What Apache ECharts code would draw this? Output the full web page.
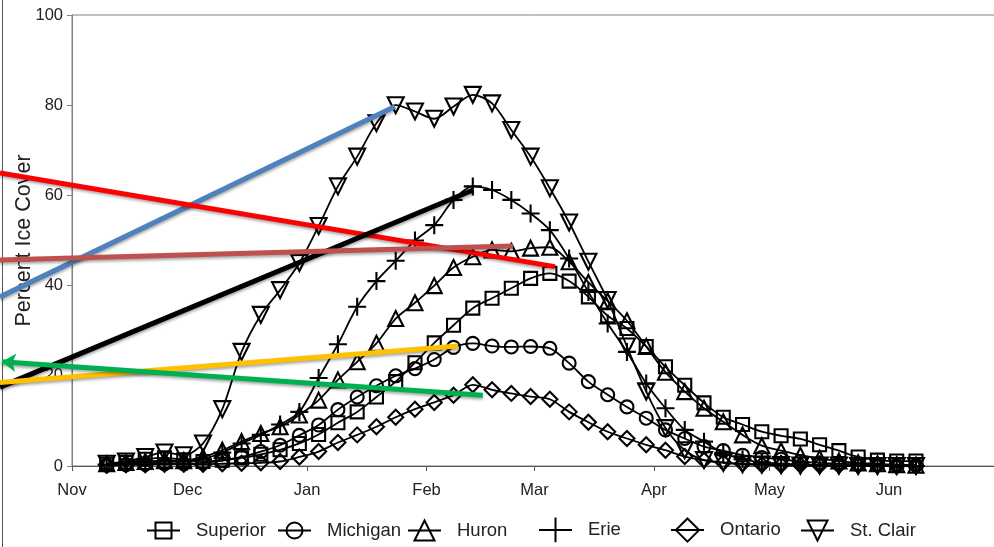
<!DOCTYPE html>
<html><head><meta charset="utf-8">
<script src="https://cdn.jsdelivr.net/npm/echarts@6/dist/echarts.min.js"></script>
<style>html,body{margin:0;padding:0;background:#fff}#c{width:994px;height:547px}</style>
</head><body><div id="c"></div><script>
// Days counted from Nov 1 (5-day periods)
const days = [9,14,19,24,29,34,39,44,49,54,59,64,69,74,79,84,89,94,99,104,109,114,119,124,129,134,139,144,149,154,159,164,169,174,179,184,189,194,199,204,209,214,219];
const monthTicks = [0,30,61,92,120,151,181,212];
const monthLabels = ['Nov','Dec','Jan','Feb','Mar','Apr','May','Jun'];
const lakeNames = ['Superior','Michigan','Huron','Erie','Ontario','St. Clair'];

const superior = [0.4,0.8,1.5,1.8,1.4,1.0,1.3,1.8,2.6,3.6,5.0,7.0,9.6,12.0,15.3,18.7,22.9,27.3,31.2,35.0,37.2,39.4,41.6,42.7,41.0,37.5,33.3,30.5,26.5,22.0,17.9,14.0,10.8,9.2,7.6,6.7,6.0,4.7,3.4,2.0,1.3,1.1,1.1];
const michigan = [0.2,0.3,0.4,0.5,0.5,0.7,1.2,2.0,3.2,4.6,6.8,9.1,12.5,15.3,17.8,20.0,21.6,23.6,26.3,27.2,26.6,26.4,26.5,26.1,22.8,18.7,15.8,13.1,10.6,8.0,6.1,4.3,3.4,2.4,1.9,1.5,1.0,0.7,0.5,0.4,0.3,0.2,0.2];
const huron = [0.5,0.8,1.0,1.2,1.2,2.0,3.5,5.4,7.2,8.7,11.3,14.6,19.1,23.1,27.2,32.7,36.2,40.0,44.0,46.4,47.9,47.6,48.3,48.5,45.3,40.7,36.6,32.2,26.5,20.8,16.5,12.8,9.8,6.9,4.5,3.4,2.4,1.7,1.1,0.7,0.5,0.3,0.2];
const erie = [0.3,0.5,0.8,1.0,1.0,1.5,3.0,5.0,6.9,9.2,12.0,19.5,27.0,35.3,41.0,45.5,50.0,53.4,59.0,62.0,61.2,59.0,56.0,52.3,46.0,38.6,31.6,25.3,18.3,12.8,8.0,5.4,2.9,1.5,0.8,0.5,0.3,0.2,0.1,0.1,0.1,0,0];
const ontario = [0.2,0.3,0.3,0.4,0.4,0.4,0.5,0.6,0.7,1.0,2.0,3.2,5.2,6.9,8.7,10.8,12.6,14.1,15.7,18.0,16.9,16.1,15.4,14.8,12.0,9.7,7.6,6.1,4.7,3.5,2.1,1.3,0.8,0.5,0.3,0.2,0.2,0.1,0.1,0.1,0.1,0,0];
const stClair = [0.5,1.0,2.0,3.0,2.4,5.0,12.6,25.3,33.5,39.0,45.0,53.2,62.0,68.6,76.0,80.0,78.6,77.0,79.7,82.3,80.4,74.5,68.6,61.6,54.0,45.3,36.8,26.5,16.5,8.4,3.5,1.3,0.7,0.4,0.3,0.2,0.1,0.1,0.1,0,0,0,0];

// Annotation strokes drawn over the chart, endpoints in [day, percent]
const blueStroke = [[-18.68,37.5],[83.8,79.7]];
const redStroke = [[-18.68,65.0],[125.3,44.2]];
const blackStroke = [[-18.68,17.5],[104.1,61.2]];
const brownStroke = [[-18.68,45.7],[114.4,48.8]];
const orangeStroke = [[-18.68,18.5],[100.2,26.6]];
const greenArrow = [[-18.2,23.1],[106.6,15.7]];

const FONT = 'Liberation Sans, Arial, sans-serif';
const seriesValues = [superior, michigan, huron, erie, ontario, stClair];
const symbols = ['rect','circle','triangle','path://M0,10L20,10M10,0L10,20','diamond','triangle'];
const symbolSizes = [13,13,15,18,15,16];
const symbolRotates = [0,0,0,0,0,180];

const series = lakeNames.map((n, i) => ({
  name: n, type: 'line', smooth: 0.3, xAxisIndex: 0, yAxisIndex: 0,
  data: days.map((d, j) => [d, seriesValues[i][j]]),
  symbol: symbols[i], symbolSize: symbolSizes[i], symbolRotate: symbolRotates[i],
  showAllSymbol: true,
  lineStyle: {color: '#000', width: 1.8},
  itemStyle: {color: 'rgba(255,255,255,0)', borderColor: '#000', borderWidth: 2.1},
  emphasis: {disabled: true}, z: 2
}));

function stroke(pts, color, arrow) {
  return {
    type: 'line', silent: true, clip: false, z: 6, xAxisIndex: 1, yAxisIndex: 1,
    data: pts.map((p, i) => (arrow && i === 0)
      ? {value: p, symbol: 'arrow', symbolSize: [14, 14], symbolRotate: 86, itemStyle: {color: color}}
      : {value: p, symbol: 'none'}),
    showSymbol: !!arrow, symbol: 'none',
    lineStyle: {color: color, width: 5, shadowColor: 'rgba(0,0,0,0.35)', shadowBlur: 3, shadowOffsetY: 2},
    itemStyle: {color: color}, emphasis: {disabled: true}
  };
}
series.push(stroke(blueStroke, '#4F81BD'));
series.push(stroke(redStroke, '#FF0000'));
series.push(stroke(blackStroke, '#000000'));
series.push(stroke(brownStroke, '#C0504D'));
series.push(stroke(orangeStroke, '#FFC000'));
series.push(stroke(greenArrow, '#00B050', true));

const legendLeft = [146, 277, 407, 538, 670, 800];
const legendIconH = [20, 20, 25, 31, 29, 25];
const legends = lakeNames.map((n, i) => ({
  data: [n], left: legendLeft[i], top: 532 - Math.max(legendIconH[i], 22) / 2,
  padding: 0, itemWidth: 33, itemHeight: legendIconH[i], selectedMode: false,
  textStyle: {fontFamily: FONT, fontSize: 18.5, color: '#222', padding: [0, 0, 0, 11]}
}));

const chart = echarts.init(document.getElementById('c'), null, {renderer: 'canvas'});
chart.setOption({
  animation: false,
  backgroundColor: '#fff',
  grid: [
    {left: 72, top: 15, width: 932.6, height: 451, show: true, borderColor: '#808080', borderWidth: 1,
     containLabel: false, outerBoundsMode: 'none'},
    {left: 0, top: 15, width: 1004.6, height: 451, show: false, containLabel: false, outerBoundsMode: 'none'}
  ],
  xAxis: [{
    type: 'value', min: 0, max: 242, gridIndex: 0,
    axisLine: {lineStyle: {color: '#555', width: 1}},
    axisTick: {show: true, inside: false, length: 5, customValues: monthTicks, lineStyle: {color: '#555'}},
    axisLabel: {customValues: monthTicks, margin: 16, fontFamily: FONT, fontSize: 16.5, color: '#222',
      formatter: v => monthLabels[monthTicks.indexOf(v)]},
    splitLine: {show: false}
  }, {
    type: 'value', min: -18.683, max: 242, gridIndex: 1, show: false
  }],
  yAxis: [{
    type: 'value', min: 0, max: 100, interval: 20, gridIndex: 0,
    name: 'Percent Ice Cover', nameLocation: 'middle', nameGap: 37, nameMoveOverlap: false,
    nameTextStyle: {fontFamily: FONT, fontSize: 21.5, color: '#222'},
    axisLine: {show: true, lineStyle: {color: '#808080', width: 1}},
    axisTick: {show: true, inside: false, length: 5, lineStyle: {color: '#808080'}},
    axisLabel: {margin: 9, fontFamily: FONT, fontSize: 16.5, color: '#222'},
    splitLine: {show: false}
  }, {
    type: 'value', min: 0, max: 100, gridIndex: 1, show: false
  }],
  legend: legends,
  graphic: [{type: 'line', shape: {x1: 2.5, y1: 0, x2: 2.5, y2: 547}, style: {stroke: '#555', lineWidth: 1}, silent: true}],
  series: series
});
</script></body></html>
